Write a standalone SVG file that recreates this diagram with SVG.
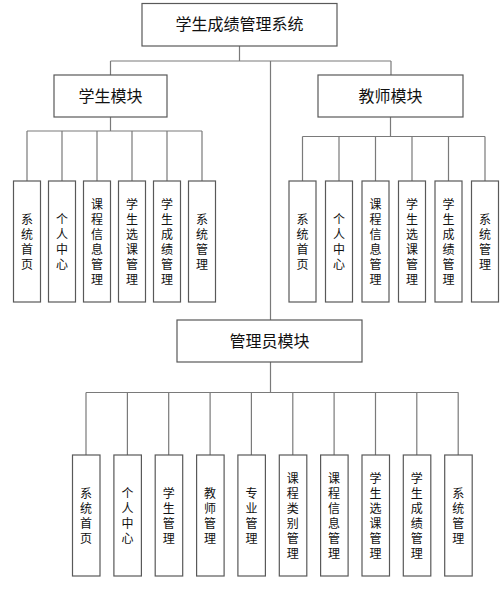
<svg xmlns="http://www.w3.org/2000/svg" width="500" height="590" viewBox="0 0 500 590">
<style>
.box{fill:#ffffff;stroke:#595959;stroke-width:1.2}
.ln{fill:none;stroke:#7a7a7a;stroke-width:1.2}
.t16{font-family:"Noto Sans CJK SC","Noto Sans",sans-serif;font-size:16px;fill:#111;text-anchor:middle}
.v{font-family:"Noto Sans CJK SC","Noto Sans",sans-serif;font-size:12px;fill:#111;text-anchor:middle;writing-mode:vertical-rl;letter-spacing:3px}
</style>
<rect width="500" height="590" fill="#ffffff"/>
<g id="connectors">
<path class="ln" d="M239.5 46V61M110.5 61H391M110.5 61V75M391 61V75M270.5 61V320"/>
<path class="ln" d="M110.5 117V131M27 131H202M27 131V181M62 131V181M97 131V181M132 131V181M167 131V181M202 131V181"/>
<path class="ln" d="M390.5 117V136.5M302.5 136.5H485M302.5 136.5V181M339 136.5V181M375.5 136.5V181M412 136.5V181M448.5 136.5V181M485 136.5V181"/>
<path class="ln" d="M270.5 362V392.5M86 392.5H458.5M86 392.5V455M127.4 392.5V455M168.7 392.5V455M210.1 392.5V455M251.4 392.5V455M292.8 392.5V455M334.1 392.5V455M375.5 392.5V455M416.8 392.5V455M458.2 392.5V455"/>
</g>
<g id="root"><rect class="box" x="142" y="3.5" width="195" height="42.5"/><text class="t16" x="239.5" y="30">学生成绩管理系统</text></g>
<g id="student"><rect class="box" x="54" y="75" width="113" height="42"/><text class="t16" x="110.5" y="101.5">学生模块</text></g>
<g id="teacher"><rect class="box" x="318" y="75" width="145" height="42"/><text class="t16" x="390.5" y="101.5">教师模块</text></g>
<g id="admin"><rect class="box" x="177" y="320" width="185" height="42"/><text class="t16" x="269.5" y="346.5">管理员模块</text></g>

<g id="s1"><rect class="box" x="13.5" y="181" width="27" height="121"/><text class="v" x="27" y="243">系统首页</text></g>
<g id="s2"><rect class="box" x="48.5" y="181" width="27" height="121"/><text class="v" x="62" y="243">个人中心</text></g>
<g id="s3"><rect class="box" x="83.5" y="181" width="27" height="121"/><text class="v" x="97" y="243">课程信息管理</text></g>
<g id="s4"><rect class="box" x="118.5" y="181" width="27" height="121"/><text class="v" x="132" y="243">学生选课管理</text></g>
<g id="s5"><rect class="box" x="153.5" y="181" width="27" height="121"/><text class="v" x="167" y="243">学生成绩管理</text></g>
<g id="s6"><rect class="box" x="188.5" y="181" width="27" height="121"/><text class="v" x="202" y="243">系统管理</text></g>

<g id="t1"><rect class="box" x="289" y="181" width="27" height="121"/><text class="v" x="302.5" y="243">系统首页</text></g>
<g id="t2"><rect class="box" x="325.5" y="181" width="27" height="121"/><text class="v" x="339" y="243">个人中心</text></g>
<g id="t3"><rect class="box" x="362" y="181" width="27" height="121"/><text class="v" x="375.5" y="243">课程信息管理</text></g>
<g id="t4"><rect class="box" x="398.5" y="181" width="27" height="121"/><text class="v" x="412" y="243">学生选课管理</text></g>
<g id="t5"><rect class="box" x="435" y="181" width="27" height="121"/><text class="v" x="448.5" y="243">学生成绩管理</text></g>
<g id="t6"><rect class="box" x="471.5" y="181" width="27" height="121"/><text class="v" x="485" y="243">系统管理</text></g>

<g id="a1"><rect class="box" x="72.5" y="455" width="27.5" height="121"/><text class="v" x="86" y="517">系统首页</text></g>
<g id="a2"><rect class="box" x="113.9" y="455" width="27.5" height="121"/><text class="v" x="127.4" y="517">个人中心</text></g>
<g id="a3"><rect class="box" x="155.2" y="455" width="27.5" height="121"/><text class="v" x="168.7" y="517">学生管理</text></g>
<g id="a4"><rect class="box" x="196.6" y="455" width="27.5" height="121"/><text class="v" x="210.1" y="517">教师管理</text></g>
<g id="a5"><rect class="box" x="237.9" y="455" width="27.5" height="121"/><text class="v" x="251.4" y="517">专业管理</text></g>
<g id="a6"><rect class="box" x="279.3" y="455" width="27.5" height="121"/><text class="v" x="292.8" y="517">课程类别管理</text></g>
<g id="a7"><rect class="box" x="320.6" y="455" width="27.5" height="121"/><text class="v" x="334.1" y="517">课程信息管理</text></g>
<g id="a8"><rect class="box" x="362" y="455" width="27.5" height="121"/><text class="v" x="375.5" y="517">学生选课管理</text></g>
<g id="a9"><rect class="box" x="403.3" y="455" width="27.5" height="121"/><text class="v" x="416.8" y="517">学生成绩管理</text></g>
<g id="a10"><rect class="box" x="444.7" y="455" width="27.5" height="121"/><text class="v" x="458.2" y="517">系统管理</text></g>
</svg>
